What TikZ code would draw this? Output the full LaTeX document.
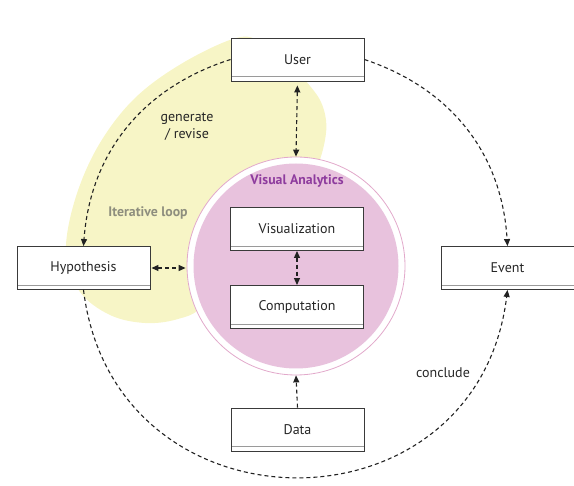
\documentclass[tikz,border=0pt]{standalone}
\usepackage{fontspec}
\setmainfont{PT Sans}
\usetikzlibrary{arrows.meta}
\definecolor{yellowfill}{HTML}{F7F5C6}
\definecolor{vafill}{HTML}{E8C2DD}
\definecolor{ringcol}{HTML}{E2A9CB}
\definecolor{vapurple}{HTML}{8E3C9E}
\definecolor{itercol}{HTML}{8E8E7E}
\definecolor{linecol}{HTML}{222222}
\definecolor{boxline}{HTML}{3A3A3A}
\definecolor{bandline}{HTML}{9A9A9A}
\tikzset{
  box/.style={draw=boxline, line width=0.9pt, fill=white, minimum width=133pt,
    minimum height=43pt, inner sep=0pt, text=black!85, font=\fontsize{14}{16}\selectfont,
    path picture={\draw[bandline, line width=0.8pt]
      ([yshift=4.5pt]path picture bounding box.south west) --
      ([yshift=4.5pt]path picture bounding box.south east);}},
  conn/.style={draw=linecol, line width=1.1pt, dash pattern=on 4pt off 3pt,
    >={Triangle[length=7pt,width=6pt]}},
  lbl/.style={text=black!85, font=\fontsize{14}{17}\selectfont, align=center, inner sep=0pt},
  boldlbl/.style={font=\fontsize{13.8}{15}\selectfont\bfseries, inner sep=0pt}
}
\begin{document}
\begin{tikzpicture}[x=1pt,y=1pt]
\useasboundingbox (0,0) rectangle (574,-486);
% iterative loop blob
\fill[yellowfill] plot[smooth cycle, tension=0.6] coordinates {
  (236,-38) (181,-64) (133,-100) (97,-148) (74,-203) (66,-255)
  (80,-292) (110,-315) (145,-323) (178,-319) (205,-305)
  (260,-250) (305,-190) (318,-165) (325,-140) (326,-120) (320,-100)
  (305,-80) (285,-58) (262,-42)};
% visual analytics circle
\node[circle, minimum size=218pt, inner sep=0pt, draw=ringcol, line width=0.8pt, fill=white] (va) at (296,-266) {};
\fill[vafill] (va.center) circle (102.5pt);
\node[boldlbl, text=vapurple] (valbl) at (297,-181) {Visual Analytics};
\node[boldlbl, text=itercol] (iter) at (148,-213) {Iterative loop};
% boxes
\node[box] (user) at (297.5,-59.5) {User};
\node[box] (hyp) at (83.5,-268) {Hypothesis};
\node[box] (event) at (507.5,-268) {Event};
\node[box] (vis) at (297,-229) {Visualization};
\node[box] (comp) at (297,-307) {Computation};
\node[box] (data) at (297.5,-429.5) {Data};
% labels
\node[lbl] (gen) at (187,-126.5) {generate\\/ revise};
\node[lbl] (concl) at (443,-373) {conclude};
% connectors
\draw[conn,<->,shorten <=4pt] (user.south) -- (va.north);
\draw[conn,<->,shorten <=1pt,shorten >=1pt] (hyp.east) -- (hyp.east -| va.west);
\draw[conn,<->] (vis.south) -- (comp.north);
\draw[conn,->] (data.north) -- (va.south);
\draw[conn,->] (user.west) to[bend right=34] (hyp.north);
\draw[conn,->] (user.east) to[bend left=34] (event.north);
\draw[conn,->] (hyp.south) to[out=-83,in=-97,looseness=1.52] (event.south);
\end{tikzpicture}
\end{document}
